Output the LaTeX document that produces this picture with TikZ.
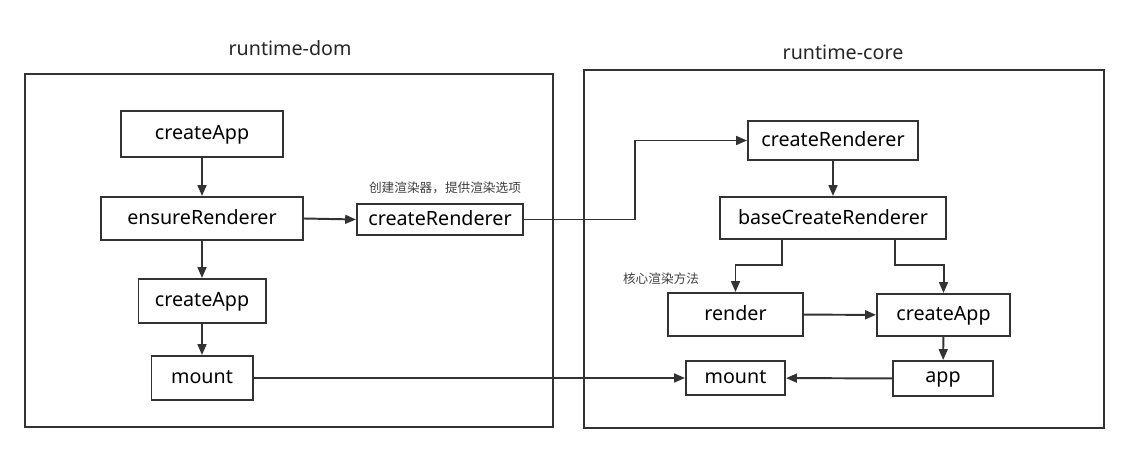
\documentclass[tikz,border=0pt]{standalone}
\usepackage{fontspec}
\setmainfont{Noto Sans}
\newfontfamily\cjk{Noto Sans CJK SC}
\usetikzlibrary{arrows.meta}
\definecolor{linegray}{HTML}{333333}
\tikzset{
	box/.style={draw=linegray, line width=1.4pt, fill=white, inner sep=2pt, text depth=0.35ex, font=\fontsize{14}{16}\selectfont},
	arrow/.style={draw=linegray, line width=1.4pt, -{Triangle[length=0.27cm, width=0.22cm]}},
	frame/.style={draw=linegray, line width=1.2pt},
	title/.style={font=\fontsize{14}{16}\selectfont, text=black!85},
	note/.style={font=\cjk\fontsize{9}{11}\selectfont, text=black!75}
}
\begin{document}
\begin{tikzpicture}
	[
	x=0.025cm, y=-0.025cm
	]
		\useasboundingbox (0,0) rectangle (1128,452);
		
		% containers
		\draw [frame] (25,74) rectangle (553,427);
		\draw [frame] (584,70) rectangle (1104,428);
		\node [title] (tdom) at (290,48) {runtime-dom};
		\node [title] (tcore) at (843,52) {runtime-core};
		
		% runtime-dom
		\node [box, minimum width=4.025cm, minimum height=1.15cm] (ca1) at (202,134) {createApp};
		\node [box, minimum width=5.05cm, minimum height=1.075cm] (ens) at (202,218.5) {ensureRenderer};
		\node [box, minimum width=3.175cm, minimum height=1.1cm] (ca2) at (202,301) {createApp};
		\node [box, minimum width=2.525cm, minimum height=1.1cm] (mnt1) at (202,378) {mount};
		\node [box, minimum width=4.15cm, minimum height=0.775cm] (crL) at (440,219.5) {createRenderer};
		\node [note] (nL) at (445,188) {创建渲染器，提供渲染选项};
		
		% runtime-core
		\node [box, minimum width=4.25cm, minimum height=0.975cm] (crR) at (833,140.5) {createRenderer};
		\node [box, minimum width=5.65cm, minimum height=1.05cm] (base) at (833,218) {baseCreateRenderer};
		\node [box, minimum width=3.375cm, minimum height=1.075cm] (render) at (735.5,314.5) {render};
		\node [box, minimum width=3.325cm, minimum height=1.05cm] (ca3) at (943.5,315) {createApp};
		\node [box, minimum width=2.475cm, minimum height=0.85cm] (mnt2) at (735.5,378) {mount};
		\node [box, minimum width=2.5cm, minimum height=0.875cm] (app) at (943,378.5) {app};
		\node [note] (nR) at (661,279) {核心渲染方法};
		
		% connector points
		\coordinate (j1) at (635,219.5);
		\coordinate (bl) at (782,239);
		\coordinate (br) at (895,239);
		
		% drawing code
		\foreach \from/\to in {ca1/ens,ens/ca2,ca2/mnt1} \draw [arrow] (\from) -- (\to);
		\draw [arrow] (ens.east) -- (crL.west);
		\draw [arrow] (crL.east) -- (j1) |- (crR.west);
		\draw [arrow] (crR) -- (base);
		\draw [arrow] (bl) -- ++(0,26) -| (render);
		\draw [arrow] (br) -- ++(0,26) -| (ca3);
		\foreach \from/\to in {render/ca3,ca3/app,app/mnt2,mnt1/mnt2} \draw [arrow] (\from) -- (\to);
	\end{tikzpicture}
\end{document}
